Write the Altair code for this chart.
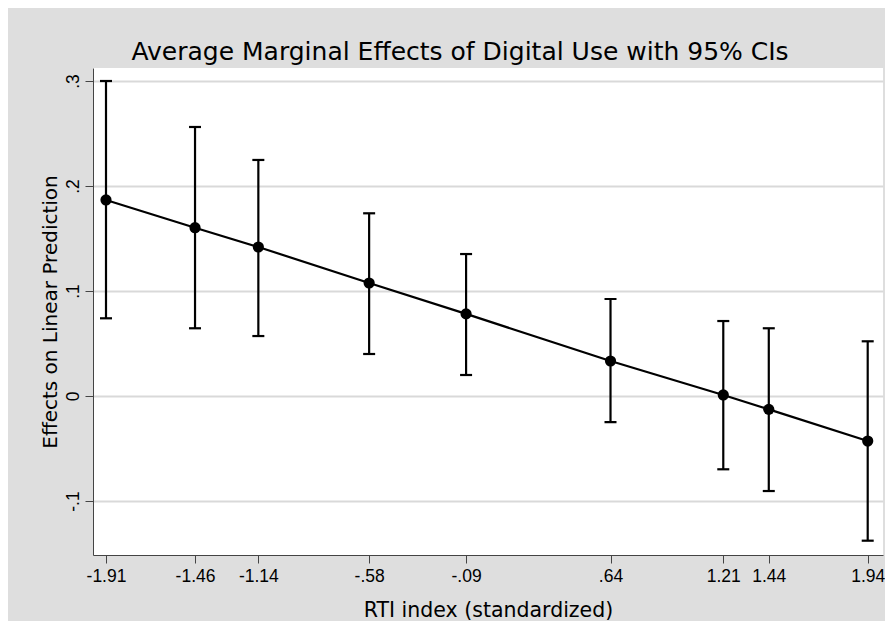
import altair as alt
import pandas as pd

# ---- data ----
rti = [-1.91, -1.46, -1.14, -0.58, -0.09, 0.64, 1.21, 1.44, 1.94]
effect = [0.1867, 0.1603, 0.1419, 0.1076, 0.0782, 0.0333, 0.0010, -0.0127, -0.0429]
ci_low = [0.0740, 0.0645, 0.0571, 0.0400, 0.0200, -0.0248, -0.0698, -0.0905, -0.1378]
ci_high = [0.3000, 0.2562, 0.2248, 0.1740, 0.1352, 0.0924, 0.0714, 0.0645, 0.0521]

x_ticks = [-1.91, -1.46, -1.14, -0.58, -0.09, 0.64, 1.21, 1.44, 1.94]
x_tick_labels = ["-1.91", "-1.46", "-1.14", "-.58", "-.09", ".64", "1.21", "1.44", "1.94"]
y_ticks = [0.3, 0.2, 0.1, 0.0, -0.1]
y_tick_labels = [".3", ".2", ".1", "0", "-.1"]

title_text = "Average Marginal Effects of Digital Use with 95% CIs"
x_title = "RTI index (standardized)"
y_title = "Effects on Linear Prediction"

df = pd.DataFrame({"rti": rti, "effect": effect, "lo": ci_low, "hi": ci_high})


def label_expr(vals, labels):
    parts = [f"abs(datum.value - ({v})) < 1e-9 ? '{l}'" for v, l in zip(vals, labels)]
    return " : ".join(parts) + " : ''"


FONT = "DejaVu Sans"
LABEL_FONT = "Liberation Sans"
AXIS_COLOR = "#444444"

xscale = alt.Scale(domain=[-1.9757, 2.0173], nice=False, zero=False)
yscale = alt.Scale(domain=[-0.15143, 0.31238], nice=False, zero=False)

x_axis = alt.Axis(
    values=x_ticks, labelExpr=label_expr(x_ticks, x_tick_labels), title=x_title,
    grid=False, tickSize=8, labelPadding=4, titlePadding=16,
    labelFont=LABEL_FONT, titleFont=FONT, labelFontSize=17.5, titleFontSize=20.5,
    labelColor="black", titleColor="black", titleFontWeight="normal",
    domainColor=AXIS_COLOR, tickColor=AXIS_COLOR, labelFlush=False, labelOverlap=False,
)
y_axis = alt.Axis(
    values=y_ticks, labelExpr=label_expr(y_ticks, y_tick_labels), title=y_title,
    grid=True, gridColor="#d9d9d9", gridWidth=2, tickSize=8, labelPadding=3,
    labelAngle=270, labelAlign="center", labelBaseline="bottom", titlePadding=4,
    labelFont=LABEL_FONT, titleFont=FONT, labelFontSize=17.5, titleFontSize=20,
    labelColor="black", titleColor="black", titleFontWeight="normal",
    domainColor=AXIS_COLOR, tickColor=AXIS_COLOR, labelFlush=False, labelOverlap=False,
)


def X():
    return alt.X("rti:Q", scale=xscale, axis=x_axis)


def Y(field):
    return alt.Y(field, type="quantitative", scale=yscale, axis=y_axis)


base = alt.Chart(df)

bars = base.mark_rule(color="black", strokeWidth=2.2).encode(
    x=X(), y=Y("lo"), y2="hi:Q",
)
cap_hi = base.mark_tick(orient="horizontal", size=12, thickness=2.2, color="black", opacity=1).encode(
    x=X(), y=Y("hi"),
)
cap_lo = base.mark_tick(orient="horizontal", size=12, thickness=2.2, color="black", opacity=1).encode(
    x=X(), y=Y("lo"),
)
line = base.mark_line(color="black", strokeWidth=2.2).encode(
    x=X(), y=Y("effect"),
)
points = base.mark_circle(size=125, color="black", opacity=1).encode(
    x=X(), y=Y("effect"),
)

chart = (
    alt.layer(bars, cap_hi, cap_lo, line, points)
    .properties(
        width=790,
        height=487,
        autosize=alt.AutoSizeParams(type="none"),
        padding={"left": 85, "top": 60, "right": 2, "bottom": 66},
        background="#dedede",
        title=alt.TitleParams(
            text=title_text, font=FONT, fontSize=25, fontWeight="normal",
            color="black", anchor="middle", dx=-28, offset=3,
        ),
    )
    .configure_view(fill="white", strokeWidth=0)
)

chart.save("out.html", embed_options={"renderer": "svg", "actions": False})
